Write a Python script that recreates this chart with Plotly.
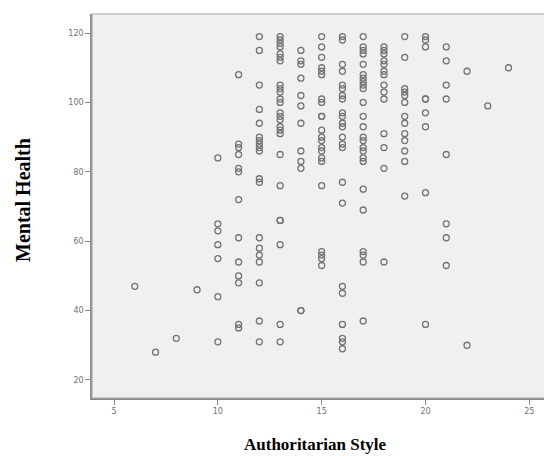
import plotly.graph_objects as go

# Authoritarian Style score -> list of Mental Health scores observed
style_levels = [6, 7, 8, 9, 10, 11, 12, 13, 14, 15, 16, 17, 18, 19, 20, 21, 22, 23, 24]
mh_6 = [47]
mh_7 = [28]
mh_8 = [32]
mh_9 = [46]
mh_10 = [84, 65, 63, 59, 55, 44, 31]
mh_11 = [108, 88, 87, 85, 81, 80, 72, 61, 54, 50, 48, 36, 35]
mh_12 = [119, 115, 105, 98, 94, 90, 89, 88, 87, 86, 78, 77, 61, 58, 56, 54, 48, 37, 31]
mh_13 = [119, 118, 117, 116, 114, 113, 112, 105, 104, 103, 101, 100, 97, 96, 95, 93, 92, 91,
         85, 76, 66, 66, 59, 36, 31]
mh_14 = [115, 112, 111, 107, 102, 99, 94, 86, 83, 81, 40, 40]
mh_15 = [119, 116, 113, 110, 109, 108, 101, 100, 96, 96, 92, 90, 89, 87, 86, 84, 83, 76,
         57, 56, 55, 53]
mh_16 = [119, 118, 111, 109, 105, 104, 102, 101, 97, 96, 94, 93, 90, 88, 87, 77, 71,
         47, 45, 36, 32, 31, 29]
mh_17 = [119, 116, 115, 114, 111, 108, 107, 106, 105, 104, 100, 96, 93, 90, 89, 87, 86, 84,
         83, 75, 69, 57, 56, 54, 37]
mh_18 = [116, 115, 114, 112, 111, 109, 108, 105, 103, 101, 91, 87, 81, 54]
mh_19 = [119, 113, 104, 103, 102, 100, 96, 94, 91, 89, 86, 83, 73]
mh_20 = [119, 118, 116, 101, 101, 97, 93, 74, 36]
mh_21 = [116, 112, 105, 101, 85, 65, 61, 53]
mh_22 = [109, 30]
mh_23 = [99]
mh_24 = [110]

mental_by_style = [mh_6, mh_7, mh_8, mh_9, mh_10, mh_11, mh_12, mh_13, mh_14, mh_15,
                   mh_16, mh_17, mh_18, mh_19, mh_20, mh_21, mh_22, mh_23, mh_24]

x_ticks = [5, 10, 15, 20, 25]
y_ticks = [20, 40, 60, 80, 100, 120]

xs, ys = [], []
for s, vals in zip(style_levels, mental_by_style):
    for v in vals:
        xs.append(s)
        ys.append(v)

fig = go.Figure()
fig.add_trace(go.Scatter(
    x=xs, y=ys, mode="markers",
    marker=dict(symbol="circle-open", size=6, color="#747474", line=dict(width=1.3, color="#747474")),
    hoverinfo="x+y", showlegend=False,
))

axis_common = dict(
    showgrid=False, zeroline=False, showline=True, linecolor="#8a8a8a", linewidth=1.5,
    ticks="outside", ticklen=5, tickcolor="#8a8a8a", tickwidth=1,
    tickfont=dict(family="DejaVu Sans", size=8, color="#707070"),
)

# page body has an 8px default margin, so the figure is drawn 8px smaller
fig.update_layout(
    width=544, height=448,
    margin=dict(l=84, r=4, t=6, b=58),
    paper_bgcolor="white", plot_bgcolor="#f0f0f0",
    xaxis=dict(range=[3.94, 25.9], tickvals=x_ticks, **axis_common),
    yaxis=dict(range=[14.8, 125.5], tickvals=y_ticks, **axis_common),
    shapes=[dict(type="rect", xref="paper", yref="paper", x0=0, y0=0, x1=1, y1=1,
                 line=dict(color="#a8a8a8", width=1.2), layer="above")],
    annotations=[
        dict(text="<b>Authoritarian Style</b>", xref="paper", yref="paper",
             x=0.491, y=-0.12, showarrow=False, xanchor="center", yanchor="middle",
             font=dict(family="Liberation Serif", size=17, color="black")),
        dict(text="<b>Mental Health</b>", xref="paper", yref="paper",
             x=-0.151, y=0.516, showarrow=False, xanchor="center", yanchor="middle",
             textangle=-90,
             font=dict(family="Liberation Serif", size=20, color="black")),
    ],
)

fig.write_html("out.html")
